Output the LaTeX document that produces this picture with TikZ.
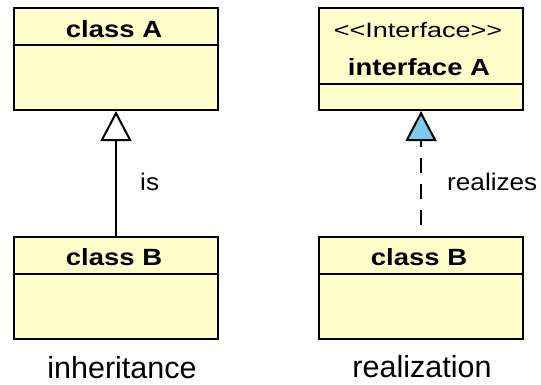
\documentclass[tikz,border=0pt]{standalone}
\usepackage{fontspec}
\setmainfont{Liberation Sans}
\newfontfamily\boxfont[FakeStretch=1.17]{Liberation Sans}
\newfontfamily\stereofont[FakeStretch=1.3]{Liberation Sans}
\newfontfamily\lblfont[FakeStretch=1.09]{Liberation Sans}
\usetikzlibrary{arrows.meta,calc}

\definecolor{classfill}{RGB}{255,255,204}
\definecolor{realfill}{RGB}{125,202,236}

\tikzset{
  umlbox/.style={draw, line width=2pt, fill=classfill, minimum width=204pt, minimum height=102pt, inner sep=0pt},
  sepline/.style={line width=2pt},
  boxname/.style={anchor=base, inner sep=0pt, font=\boxfont\bfseries\fontsize{23.5}{27}\selectfont},
  stereotype/.style={anchor=base, inner sep=0pt, font=\stereofont\fontsize{20.8}{25}\selectfont},
  edgelabel/.style={anchor=base west, inner sep=0pt, font=\lblfont\fontsize{24}{28}\selectfont},
  caption/.style={anchor=base, inner sep=0pt, font=\fontsize{30.5}{34}\selectfont},
  generalize/.style={line width=2pt, -{Triangle[open, length=30pt, width=31pt]}},
  realize/.style={line width=2pt, dash pattern=on 15pt off 11pt, dash phase=15pt, -{Triangle[length=30pt, width=31pt, fill=realfill]}}
}

\begin{document}
\begin{tikzpicture}[x=1pt, y=-1pt]
        \useasboundingbox (0,0) rectangle (541,384);

        % inheritance
        \node[umlbox] (A) at (116,59) {};
        \draw[sepline] ($(A.north west)+(0,38)$) -- ($(A.north east)+(0,38)$);
        \node[boxname] (nameA) at (114,37) {class A};

        \node[umlbox] (B1) at (116,288) {};
        \draw[sepline] ($(B1.north west)+(0,38)$) -- ($(B1.north east)+(0,38)$);
        \node[boxname] (nameB1) at (114,265) {class B};

        \draw[generalize] (B1.north) -- (A.south);
        \node[edgelabel] (lblis) at (140,190) {is};
        \node[caption] (capInh) at (122,378) {inheritance};

        % realization
        \node[umlbox] (IA) at (421,59) {};
        \draw[sepline] ($(IA.north west)+(0,77)$) -- ($(IA.north east)+(0,77)$);
        \node[stereotype] (stereo) at (418,37) {<\kern0pt<Interface>\kern0pt>};
        \node[boxname] (nameIA) at (419,75) {interface A};

        \node[umlbox] (B2) at (421,288) {};
        \draw[sepline] ($(B2.north west)+(0,38)$) -- ($(B2.north east)+(0,38)$);
        \node[boxname] (nameB2) at (419,265) {class B};

        \draw[realize] (B2.north) -- (IA.south);
        \node[edgelabel] (lblreal) at (447,190) {realizes};
        \node[caption] (capReal) at (422,377) {realization};
\end{tikzpicture}
\end{document}
